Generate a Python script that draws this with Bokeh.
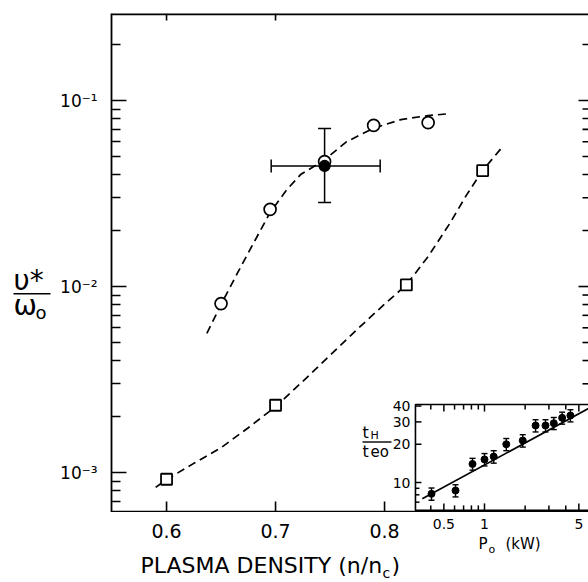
from bokeh.plotting import figure
from bokeh.layouts import column, row
from bokeh.models import (Range1d, LogScale, FixedTicker, Label, Whisker, TeeHead, ColumnDataSource)
from bokeh.core.properties import value
from bokeh.embed import file_html
from bokeh.resources import INLINE

FONT = "DejaVu Sans"

# ---------------- main panel data ----------------
circ_x = [0.650, 0.695, 0.745, 0.790, 0.840]
circ_y = [0.0081, 0.026, 0.047, 0.0735, 0.076]

sq_x = [0.600, 0.700, 0.820, 0.890]
sq_y = [0.00092, 0.0023, 0.0102, 0.042]

# dashed guide curves
cc_x = [0.637, 0.650, 0.665, 0.680, 0.695, 0.710, 0.723, 0.745, 0.765, 0.790, 0.815, 0.840, 0.860]
cc_y = [0.0056, 0.0080, 0.0118, 0.0172, 0.0250, 0.0330, 0.0400, 0.0480, 0.0600, 0.0710, 0.0790, 0.0830, 0.0850]

sc_x = [0.590, 0.600, 0.625, 0.650, 0.675, 0.700, 0.725, 0.750, 0.775, 0.800, 0.820, 0.840, 0.860, 0.875, 0.890, 0.908]
sc_y = [0.000832, 0.000916, 0.00112, 0.00136, 0.00174, 0.00226, 0.00309, 0.00427, 0.00589, 0.00804,
        0.0102, 0.0145, 0.0219, 0.0309, 0.0421, 0.0562]

# solid point with error cross
pt_x = [0.745]
pt_y = [0.0445]
pt_ylo = [0.0283]
pt_yhi = [0.0708]
pt_xlo = [0.696]
pt_xhi = [0.796]

x_ticks = [0.6, 0.7, 0.8]
x_labels = ["0.6", "0.7", "0.8"]
x_top_ticks = [0.6, 0.7]
y_ticks = [1e-3, 1e-2, 1e-1]
y_minor = [7e-4, 8e-4, 9e-4] + [k * 1e-3 for k in range(2, 10)] + [k * 1e-2 for k in range(2, 10)] + [2e-1]
y_right_major = [1e-2, 1e-1]
y_right_minor = [k * 1e-3 for k in range(3, 10)] + [k * 1e-2 for k in range(2, 10)] + [2e-1]
y_labels = {1e-3: "10\u207b\u00b3", 1e-2: "10\u207b\u00b2", 1e-1: "10\u207b\u00b9"}

# ---------------- inset data ----------------
ins_P = [0.405, 0.61, 0.815, 1.0, 1.17, 1.45, 1.92, 2.39, 2.83, 3.26, 3.76, 4.33]
ins_t = [8.15, 8.65, 14.0, 15.2, 16.0, 20.0, 21.4, 28.1, 28.1, 29.3, 32.3, 33.7]
ins_err = [0.9, 0.95, 1.5, 1.7, 1.8, 2.2, 2.4, 3.1, 3.1, 3.2, 3.5, 3.7]
ins_line_P = [0.346, 5.9]
ins_line_t = [7.44, 38.3]
ins_xticks = [0.4, 0.5, 0.6, 0.7, 0.8, 0.9, 1, 2, 3, 4, 5, 6]
ins_xmajor = [0.5, 1, 5]
ins_xlabels = ["0.5", "1", "5"]
ins_yticks = [7, 8, 9, 10, 20, 30, 40]
ins_ymajor = [10, 20, 30, 40]
ins_ylabels = ["10", "20", "30", "40"]
ins_left, ins_right, ins_bot, ins_top = 0.308, 7.0, 6.03, 41.1

# ---------------- geometry ----------------
LW = 56                  # width of the left title strip
FL, FT = 111, 13         # frame left / top on the page
FW, FH = 477, 499
BH = 70                  # height of the bottom text strip
XPX = 1090.0             # px per unit of n/nc
YPX = 186.0              # px per decade (main)
x0 = 0.5495
x1 = x0 + FW / XPX
ylog0, ylog1 = -3.215, -0.532
IPX, IPY = 135.0, 127.0  # inset px per decade
ix_lo = (FL - 484) / IPX
ix_hi = (FL + FW - 484) / IPX
iy_lo = 1 - (FT + FH - 482) / IPY
iy_hi = 1 + (482 - FT) / IPY


def mid(baseline, size):
    """vertical centre of a text whose baseline sits at page-pixel `baseline`"""
    return baseline - 0.35 * size


common = dict(output_backend="svg", toolbar_location=None, outline_line_color=None,
              background_fill_color="white", border_fill_color="white")

xr = Range1d(x0, x1)
ixr = Range1d(10 ** ix_lo, 10 ** ix_hi)

# ================= main figure =================
p = figure(frame_width=FW, frame_height=FH, min_border_left=FL - LW, min_border_right=0,
           min_border_top=FT, min_border_bottom=0,
           x_range=xr, y_range=Range1d(10 ** ylog0, 10 ** ylog1),
           y_axis_type="log", x_axis_location=None, **common)
p.grid.visible = False
p.extra_x_ranges = {"ix": ixr}
p.extra_x_scales = {"ix": LogScale()}
p.extra_y_ranges = {"iy": Range1d(10 ** iy_lo, 10 ** iy_hi)}
p.extra_y_scales = {"iy": LogScale()}

ya = p.yaxis[0]
ya.ticker = FixedTicker(ticks=y_ticks, minor_ticks=y_minor)
ya.major_label_overrides = y_labels
ya.major_tick_in, ya.major_tick_out = 15, 0
ya.minor_tick_in, ya.minor_tick_out = 9, 0
ya.axis_line_width = 1.8
ya.major_tick_line_width = 1.6
ya.minor_tick_line_width = 1.6
ya.major_label_text_font = FONT
ya.major_label_text_font_size = "17px"
ya.major_label_text_color = "black"
ya.major_label_standoff = 14

# frame edges drawn as glyphs: bottom & top lines with inward ticks, right-hand ticks
ytop, ybot = 10 ** ylog1, 10 ** ylog0
p.segment(x0=[x0, x0], y0=[ytop, ybot], x1=[x1, x1], y1=[ytop, ybot], line_color="black", line_width=3.6)
p.segment(x0=x_ticks, y0=[ybot] * len(x_ticks), x1=x_ticks,
          y1=[ybot * 10 ** (11 / YPX)] * len(x_ticks), line_color="black", line_width=1.6)
p.segment(x0=x_top_ticks, y0=[ytop] * len(x_top_ticks), x1=x_top_ticks,
          y1=[ytop / 10 ** (7 / YPX)] * len(x_top_ticks), line_color="black", line_width=1.6)
p.segment(x0=[x1] * len(y_right_major), y0=y_right_major, x1=[x1 - 10 / XPX] * len(y_right_major),
          y1=y_right_major, line_color="black", line_width=1.6)
p.segment(x0=[x1] * len(y_right_minor), y0=y_right_minor, x1=[x1 - 6 / XPX] * len(y_right_minor),
          y1=y_right_minor, line_color="black", line_width=1.6)

DASH = "8 5"
p.line(cc_x, cc_y, line_dash=DASH, line_width=1.7, line_color="black")
p.line(sc_x, sc_y, line_dash=DASH, line_width=1.7, line_color="black")

head = dict(size=13, line_width=1.5)
p.add_layout(Whisker(source=ColumnDataSource(dict(x=pt_x, lo=pt_ylo, hi=pt_yhi)), base="x", lower="lo",
                     upper="hi", dimension="height", line_width=1.5, line_color="black",
                     upper_head=TeeHead(**head), lower_head=TeeHead(**head), level="underlay"))
p.add_layout(Whisker(source=ColumnDataSource(dict(y=pt_y, lo=pt_xlo, hi=pt_xhi)), base="y", lower="lo",
                     upper="hi", dimension="width", line_width=1.5, line_color="black",
                     upper_head=TeeHead(**head), lower_head=TeeHead(**head), level="underlay"))

p.scatter(circ_x, circ_y, marker="circle", size=12, fill_color="white", line_color="black", line_width=1.7)
p.scatter(sq_x, sq_y, marker="square", size=11, fill_color="white", line_color="black", line_width=1.8)
p.scatter(pt_x, pt_y, marker="circle", size=11, fill_color="black", line_color="black", line_width=1.2)

# ---- inset ----
IR = dict(x_range_name="ix", y_range_name="iy")
p.quad(left=[ins_left], right=[ins_right], bottom=[ins_bot], top=[ins_top],
       fill_color="white", line_color="black", line_width=1.6, **IR)

xl = [7 if t in ins_xmajor else 5 for t in ins_xticks]
p.segment(x0=ins_xticks, y0=[ins_bot] * len(ins_xticks), x1=ins_xticks,
          y1=[ins_bot * 10 ** (l / IPY) for l in xl], line_color="black", line_width=1.5, **IR)
p.segment(x0=ins_xticks, y0=[ins_top] * len(ins_xticks), x1=ins_xticks,
          y1=[ins_top / 10 ** (l / IPY) for l in xl], line_color="black", line_width=1.5, **IR)
yl = [6 if t in ins_ymajor else 4 for t in ins_yticks]
p.segment(x0=[ins_left] * len(ins_yticks), y0=ins_yticks, x1=[ins_left * 10 ** (l / IPX) for l in yl],
          y1=ins_yticks, line_color="black", line_width=1.5, **IR)

p.line(ins_line_P, ins_line_t, line_color="black", line_width=1.7, **IR)
isrc = ColumnDataSource(dict(P=ins_P, t=ins_t,
                             lo=[t - e for t, e in zip(ins_t, ins_err)],
                             hi=[t + e for t, e in zip(ins_t, ins_err)]))
p.segment(x0="P", y0="lo", x1="P", y1="hi", source=isrc, line_color="black", line_width=1.4, **IR)
p.scatter("P", "lo", source=isrc, marker="dash", size=6, line_color="black", line_width=1.4, **IR)
p.scatter("P", "hi", source=isrc, marker="dash", size=6, line_color="black", line_width=1.4, **IR)
p.scatter("P", "t", source=isrc, marker="circle", size=7, fill_color="black", line_color="black", **IR)

for v, s in zip(ins_ymajor, ins_ylabels):
    p.add_layout(Label(x=ins_left, y=v, text=s, x_offset=-5, text_align="right", text_baseline="middle",
                       text_font=FONT, text_font_size="14px", text_color="black", **IR))


# inset y title  tH / teo  (page pixel positions -> frame screen units)
def lab(fig, cx, base, text, size):
    fig.add_layout(Label(x=cx - FL, y=FT + FH - mid(base, size), x_units="screen", y_units="screen",
                         text=text, text_font=FONT, text_font_size=f"{size}px", text_color="black",
                         text_baseline="middle"))


lab(p, 362, 438, "t", 16)
lab(p, 370, 439, "H", 11)
lab(p, 362, 457, "t", 16)
lab(p, 370, 457, "eo", 15)


def ipx(cx):
    return 10 ** ((cx - 484) / IPX)


def ipy(cy):
    return 10 ** (1 + (482 - cy) / IPY)


p.segment(x0=[ipx(362)], x1=[ipx(391)], y0=[ipy(441.5)], y1=[ipy(441.5)], line_color="black",
          line_width=1.4, **IR)

# ================= left title strip =================
L = figure(width=LW, height=FT + FH, min_border=0, x_range=Range1d(0, LW), y_range=Range1d(FT + FH, 0),
           x_axis_location=None, y_axis_location=None, **common)
L.grid.visible = False


def ltext(cx, base, s, size):
    L.text(x=[cx], y=[mid(base, size)], text=[s], text_font=value(FONT), text_font_size=value(f"{size}px"),
           text_baseline="middle", text_color="black")


ltext(13, 284, "\u03c5*", 28)
L.segment(x0=[13], x1=[50], y0=[287.5], y1=[287.5], line_color="black", line_width=1.6)
ltext(13, 309, "\u03c9", 28)
ltext(35, 313, "o", 18)

# ================= bottom text strip =================
top_y = FT + FH
B = figure(frame_width=FW, frame_height=BH, min_border_left=FL, min_border_right=0, min_border_top=0,
           min_border_bottom=0, x_range=xr, y_range=Range1d(top_y + BH, top_y),
           x_axis_location=None, y_axis_location=None, **common)
B.grid.visible = False
B.extra_x_ranges = {"ix": ixr}
B.extra_x_scales = {"ix": LogScale()}

# main x tick labels (at the tick values)
B.text(x=x_ticks, y=[530] * len(x_ticks), text=x_labels, text_font=value(FONT),
       text_font_size=value("19px"), text_align="center", text_baseline="middle", text_color="black")
# inset x tick labels
B.text(x=ins_xmajor, y=[518] * len(ins_xmajor), text=ins_xlabels, text_font=value(FONT),
       text_font_size=value("14px"), text_align="center", text_baseline="top", text_color="black",
       x_range_name="ix")


def bx(cx):
    return x0 + (cx - FL) / XPX


def btext(cx, base, s, size):
    B.text(x=[bx(cx)], y=[mid(base, size)], text=[s], text_font=value(FONT),
           text_font_size=value(f"{size}px"), text_baseline="middle", text_color="black")


btext(478, 549, "P", 15)
btext(488, 553, "o", 11)
btext(505, 549, "(kW)", 15)

btext(140, 573, "PLASMA DENSITY (n/n", 22)
btext(382, 577, "c", 14)
btext(391, 573, ")", 22)

layout = column(row(L, p), B)
open("out.html", "w").write(file_html(layout, INLINE))
